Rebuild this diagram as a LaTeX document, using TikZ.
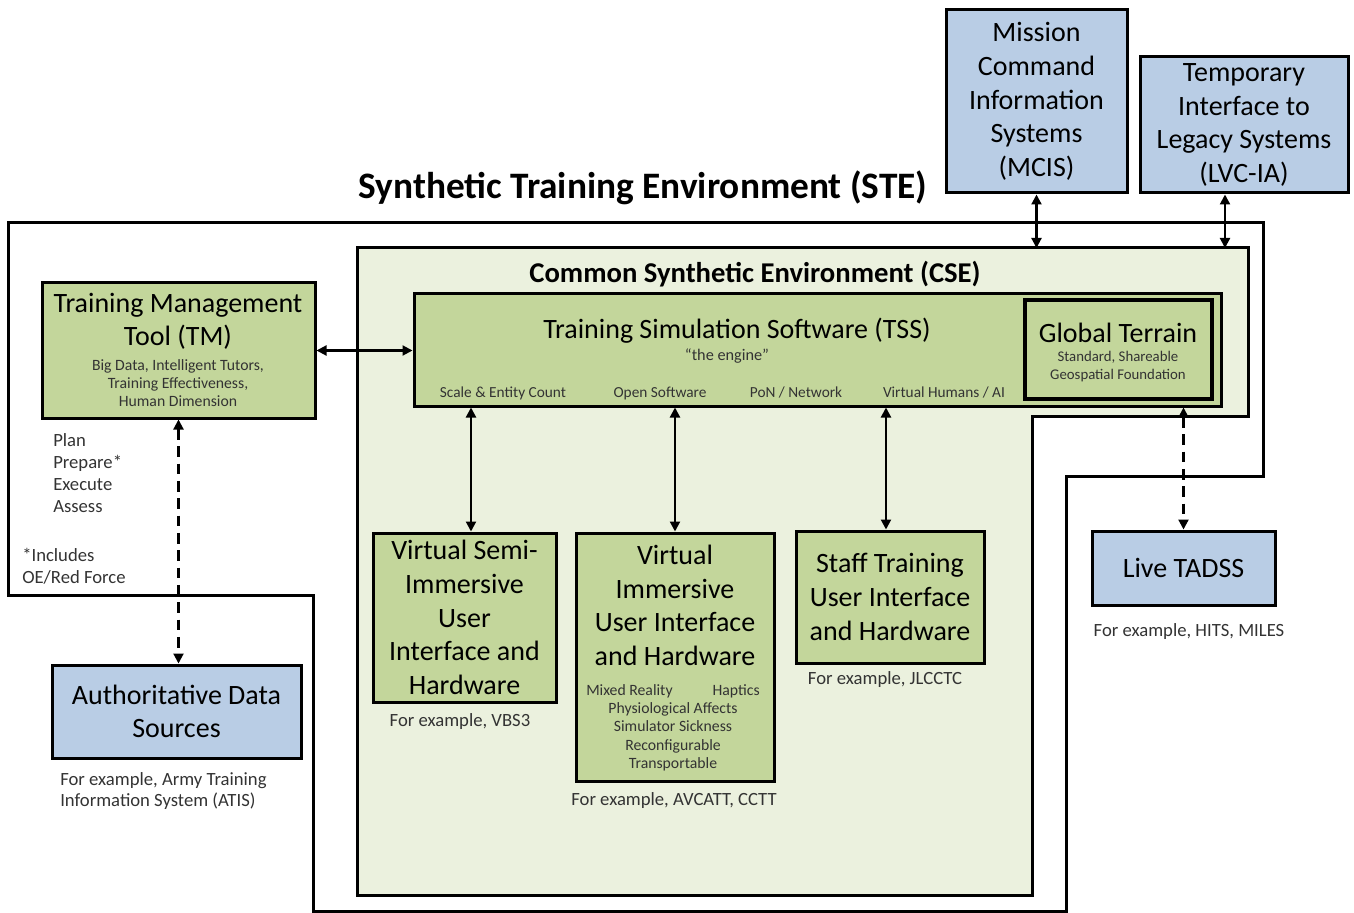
\documentclass[tikz,border=0pt]{standalone}
\usepackage{fontspec}
\setmainfont{Carlito}
\usetikzlibrary{arrows.meta}
\definecolor{boxgreen}{HTML}{C3D69B}
\definecolor{boxblue}{HTML}{B9CDE5}
\definecolor{csefill}{HTML}{EBF1DE}
\definecolor{subtext}{HTML}{333333}
\begin{document}
\begin{tikzpicture}[x=0.75pt,y=-0.75pt,
  box/.style={draw=black, line width=2.25pt, inner sep=0pt, align=center,
    font=\fontsize{21}{25.2}\selectfont},
  gbox/.style={box, fill=boxgreen},
  bbox/.style={box, fill=boxblue},
  big/.style={inner sep=0pt, align=center, font=\fontsize{21}{25.2}\selectfont},
  small/.style={inner sep=0pt, align=center, text=subtext, font=\fontsize{11.8}{13.8}\selectfont},
  note/.style={inner sep=0pt, text=subtext, font=\fontsize{14}{16.5}\selectfont},
  arr/.style={line width=1.6pt, {Triangle[length=7.5pt,width=7.5pt]}-{Triangle[length=7.5pt,width=7.5pt]}},
  darr/.style={arr, dash pattern=on 8pt off 5pt},
  wall/.style={line width=2.25pt, line join=miter}]
\useasboundingbox (0,0) rectangle (1354,913);

% STE outline
\draw[wall] (8,223) -- (1263,223) -- (1263,476) -- (1066,476) -- (1066,911)
  -- (313,911) -- (313,595) -- (8,595) -- cycle;
% CSE area
\draw[wall, fill=csefill] (357,248) -- (1248,248) -- (1248,416) -- (1032,416)
  -- (1032,895) -- (357,895) -- cycle;
\coordinate (csetop) at (700,248);

\node[font=\fontsize{28}{32}\selectfont\bfseries, inner sep=0pt] (stetitle) at (643,188) {Synthetic Training Environment (STE)};
\node[font=\fontsize{21.5}{25}\selectfont\bfseries, inner sep=0pt] (csetitle) at (755,274) {Common Synthetic Environment (CSE)};

% Training Management Tool
\node[gbox, minimum width=273*0.75pt, minimum height=135*0.75pt] (tm) at (178.5,350.5) {};
\node[big] (tmtext) at (178,321.5) {Training Management\\Tool (TM)};
\node[small] (tmsub) at (178,383) {Big Data, Intelligent Tutors,\\Training Effectiveness,\\Human Dimension};

% TSS
\node[gbox, minimum width=807*0.75pt, minimum height=112*0.75pt] (tss) at (817.5,350) {};
\node[big] (tsstext) at (737,331) {Training Simulation Software (TSS)};
\node[small, font=\fontsize{12.2}{14}\selectfont] (engine) at (727,356) {“the engine”};
\node[small, font=\fontsize{11.5}{14}\selectfont] (l1) at (503,393) {Scale \& Entity Count};
\node[small, font=\fontsize{11.5}{14}\selectfont] (l2) at (660,393) {Open Software};
\node[small, font=\fontsize{11.5}{14}\selectfont] (l3) at (796,393) {PoN / Network};
\node[small, font=\fontsize{11.5}{14}\selectfont] (l4) at (944,393) {Virtual Humans / AI};

% Global terrain
\node[gbox, line width=3pt, minimum width=187*0.75pt, minimum height=99*0.75pt] (gt) at (1118.5,349.5) {};
\node[big] (gttext) at (1118,333) {Global Terrain};
\node[small, font=\fontsize{11.1}{13.5}\selectfont] (gtsub) at (1118,367) {Standard, Shareable\\Geospatial Foundation};

% lower green boxes
\node[gbox, minimum width=183*0.75pt, minimum height=169*0.75pt] (vsi) at (464.5,617.5)
  {Virtual Semi-\\Immersive\\User\\Interface and\\Hardware};
\node[gbox, minimum width=198*0.75pt, minimum height=248*0.75pt] (vi) at (675,657) {};
\node[big] (vitext) at (675,605.5) {Virtual\\Immersive\\User Interface\\and Hardware};
\node[small, anchor=west] (mixed) at (586,691) {Mixed Reality};
\node[small, anchor=east] (haptics) at (760,691) {Haptics};
\node[small] (visub) at (673,737) {Physiological Affects\\Simulator Sickness\\Reconfigurable\\Transportable};
\node[gbox, minimum width=188*0.75pt, minimum height=132*0.75pt] (st) at (890,597)
  {Staff Training\\User Interface\\and Hardware};

% blue boxes
\node[bbox, minimum width=249*0.75pt, minimum height=93*0.75pt] (ads) at (176.5,711.5)
  {Authoritative Data\\Sources};
\node[bbox, minimum width=183*0.75pt, minimum height=74*0.75pt] (lt) at (1183.5,568) {Live TADSS};
\node[bbox, minimum width=181*0.75pt, minimum height=183*0.75pt] (mcis) at (1036.5,101.5)
  {Mission\\Command\\Information\\Systems\\(MCIS)};
\node[bbox, minimum width=208*0.75pt, minimum height=136*0.75pt] (lvc) at (1244,125)
  {Temporary\\Interface to\\Legacy Systems\\(LVC-IA)};

% notes
\node[note, anchor=west, align=left] (ppea) at (53,473) {Plan\\Prepare*\\Execute\\Assess};
\node[note, anchor=west, align=left] (incl) at (22,566) {*Includes\\OE/Red Force};
\node[note, anchor=west, align=left, font=\fontsize{14}{15.75}\selectfont] (adsnote) at (60,791.5) {For example, Army Training\\Information System (ATIS)};
\node[note] (vsinote) at (460,722) {For example, VBS3};
\node[note] (vinote) at (674,801) {For example, AVCATT, CCTT};
\node[note] (stnote) at (885,680) {For example, JLCCTC};
\node[note] (ltnote) at (1189,632) {For example, HITS, MILES};

% connectors
\draw[arr] (tm.east) -- (tss.west |- tm.east);
\draw[darr] (tm.south) -- (tm.south |- ads.north);
\draw[arr] ([xshift=6.5*0.75pt]vsi.north |- tss.south) -- ([xshift=6.5*0.75pt]vsi.north);
\draw[arr] (vi.north |- tss.south) -- (vi.north);
\draw[arr] ([xshift=-4*0.75pt]st.north |- tss.south) -- ([xshift=-4*0.75pt]st.north);
\draw[darr] (lt.north |- tss.south) -- (lt.north);
\draw[arr] (mcis.south) -- (mcis.south |- csetop);
\draw[arr] ([xshift=-19*0.75pt]lvc.south) -- ([xshift=-19*0.75pt]lvc.south |- csetop);
\end{tikzpicture}
\end{document}
